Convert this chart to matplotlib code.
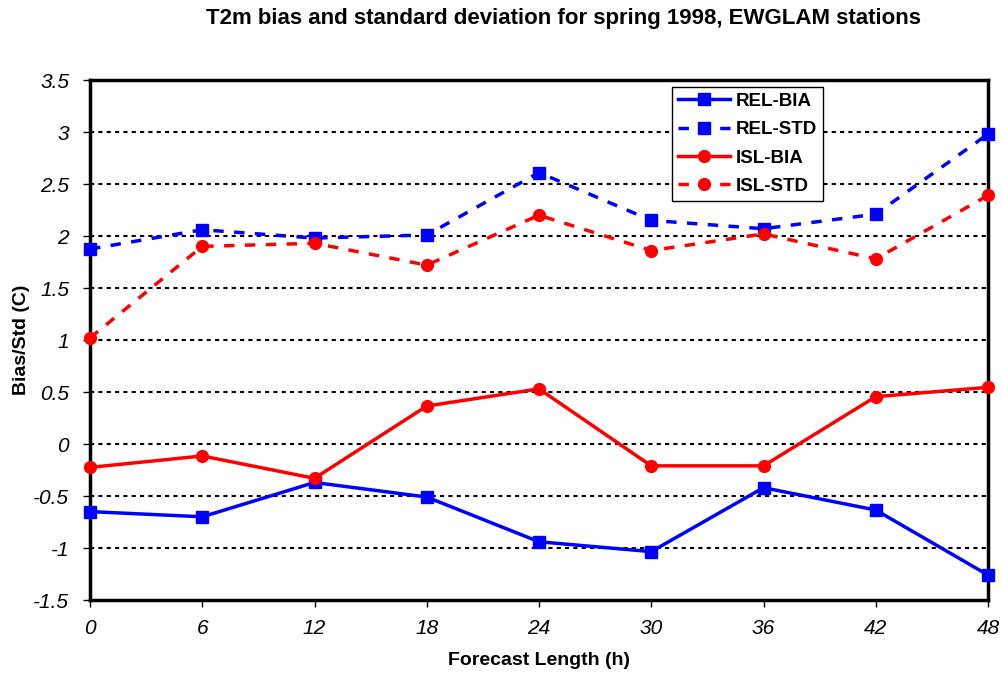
import numpy as np
import matplotlib
matplotlib.use("Agg")
import matplotlib.pyplot as plt

plt.rcParams['font.family'] = ['Liberation Sans', 'DejaVu Sans']

# forecast lengths (h)
hours = [0, 6, 12, 18, 24, 30, 36, 42, 48]

# values
rel_bia = [-0.65, -0.70, -0.37, -0.51, -0.94, -1.035, -0.42, -0.635, -1.26]
rel_std = [1.875, 2.06, 1.98, 2.01, 2.61, 2.15, 2.07, 2.21, 2.98]
isl_bia = [-0.225, -0.115, -0.33, 0.365, 0.53, -0.21, -0.21, 0.455, 0.545]
isl_std = [1.02, 1.90, 1.93, 1.72, 2.20, 1.86, 2.02, 1.78, 2.39]

yticks = [-1.5, -1, -0.5, 0, 0.5, 1, 1.5, 2, 2.5, 3, 3.5]
ytick_labels = ['-1.5', '-1', '-0.5', '0', '0.5', '1', '1.5', '2', '2.5', '3', '3.5']

fig = plt.figure(figsize=(10.01, 6.75), dpi=100)
ax = fig.add_axes([90 / 1001, 75 / 675, 898 / 1001, 520 / 675])

# dotted horizontal grid
for y in yticks[1:-1]:
    ax.axhline(y, color='black', lw=1.5, ls=(0, (2, 2)), zorder=1)

lw = 2.5
ms = 8.5
ax.plot(hours, rel_bia, color='#0000ff', lw=lw, marker='s', ms=ms,
        label='REL-BIA', clip_on=False, zorder=3)
ax.plot(hours, rel_std, color='#0000ff', lw=lw, ls=(0, (3, 3)), marker='s', ms=ms,
        label='REL-STD', clip_on=False, zorder=3)
ax.plot(hours, isl_bia, color='#ff0000', lw=lw, marker='o', ms=ms,
        label='ISL-BIA', clip_on=False, zorder=3)
ax.plot(hours, isl_std, color='#ff0000', lw=lw, ls=(0, (3, 3)), marker='o', ms=ms,
        label='ISL-STD', clip_on=False, zorder=3)

ax.set_xlim(0, 48)
ax.set_ylim(-1.5, 3.5)
ax.set_xticks(hours)
ax.set_xticklabels([str(h) for h in hours], fontsize=15, style='italic')
ax.set_yticks(yticks)
ax.set_yticklabels(ytick_labels, fontsize=15, style='italic')
ax.tick_params(axis='both', direction='out', length=5, width=1, color='black')
ax.tick_params(axis='y', pad=10)
ax.tick_params(axis='x', pad=9)

for side in ['left', 'right', 'top', 'bottom']:
    ax.spines[side].set_linewidth(2.5)
    ax.spines[side].set_color('black')

ax.set_xlabel('Forecast Length (h)', fontsize=14, fontweight='bold')
ax.xaxis.set_label_coords(0.5, -0.10)
ax.set_ylabel('Bias/Std (C)', fontsize=14, fontweight='bold')
ax.yaxis.set_label_coords(-0.067, 0.5)
fig.text(0.5625, 0.973, 'T2m bias and standard deviation for spring 1998, EWGLAM stations',
         ha='center', va='center', fontsize=16, fontweight='bold')

leg = ax.legend(loc='upper left', bbox_to_anchor=(0.648, 0.9865), frameon=True,
                fancybox=False, edgecolor='black', framealpha=1,
                prop={'weight': 'bold', 'size': 13.5}, handlelength=2.8,
                labelspacing=0.6, borderpad=0.3, handletextpad=0.3, borderaxespad=0)
leg.get_frame().set_linewidth(1)

fig.savefig('out.png', dpi=100)
